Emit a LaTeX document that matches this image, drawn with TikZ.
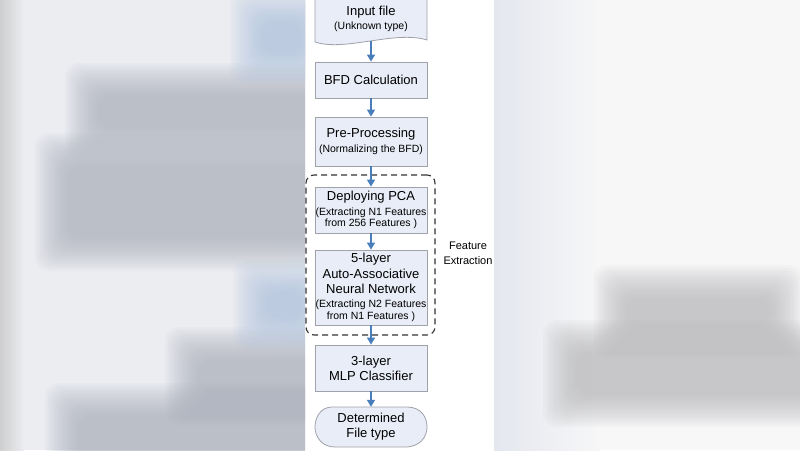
\documentclass[tikz,border=0pt]{standalone}
\usepackage{fontspec}
\setmainfont{Liberation Sans}
\usetikzlibrary{arrows.meta}
\definecolor{boxfill}{HTML}{E9EDF7}
\definecolor{boxline}{HTML}{A0A2AA}
\definecolor{arrowblue}{HTML}{4A7EBB}
\definecolor{bgleft}{HTML}{EBEDF1}
\definecolor{bglefttop}{HTML}{F3F4F6}
\definecolor{bgright}{HTML}{F7F7F8}
\definecolor{bgrightedge}{HTML}{E4E7EE}
\definecolor{blobgray}{HTML}{A4A9B5}
\definecolor{blobgrayr}{HTML}{B0B0B2}
\definecolor{blobblue}{HTML}{A6BEDD}
\definecolor{blobwhite}{HTML}{FAFBFC}
\newcommand\softblob[5]{%
  \foreach \k in {0,...,13}{\fill[#5, opacity=0.065, rounded corners=14pt] ({#1-(14-\k)*2.5},{#2-(14-\k)*2.5}) rectangle ({#3+(14-\k)*2.5},{#4+(14-\k)*2.5});}}
\newcommand\subtxt[1]{{\fontsize{10.5}{12}\selectfont #1}}
\tikzset{
  box/.style={draw=boxline, fill=boxfill, line width=0.8pt, minimum width=112pt, align=center, inner sep=0pt, font=\fontsize{13}{15.5}\selectfont},
  plain/.style={align=center, inner sep=0pt, font=\fontsize{13}{15.5}\selectfont},
  flow/.style={draw=arrowblue, line width=1.4pt, -{Triangle[width=8pt,length=7pt]}},
  shapeline/.style={draw=boxline, fill=boxfill, line width=0.8pt},
  groupbox/.style={draw=black!80, line width=1.1pt, dash pattern=on 6pt off 4pt, rounded corners=8pt, minimum width=129pt, minimum height=160pt, inner sep=0pt}
}
\begin{document}
\begin{tikzpicture}[x=1pt, y=-1pt]
\useasboundingbox (0,0) rectangle (800,450);
% background
\fill[white] (0,0) rectangle (800,450);
\begin{scope}
\clip (0,0) rectangle (305,450);
\fill[bgleft] (0,0) rectangle (305,450);
\softblob{0}{-20}{305}{55}{bglefttop}
\softblob{30}{275}{250}{325}{blobwhite}
\shade[left color=black!20, right color=bgleft, opacity=0.9] (0,0) rectangle (24,450);
\softblob{100}{98}{330}{126}{blobgray}
\softblob{70}{168}{330}{236}{blobgray}
\softblob{200}{362}{330}{390}{blobgray}
\softblob{80}{418}{330}{470}{blobgray}
\softblob{265}{25}{298}{50}{blobblue}
\softblob{268}{294}{298}{316}{blobblue}
\end{scope}
\begin{scope}
\clip (494,0) rectangle (800,450);
\fill[bgright] (494,0) rectangle (800,450);
\shade[left color=bgrightedge, right color=bgright] (494,0) rectangle (600,450);
\softblob{628}{300}{768}{323}{blobgrayr}
\softblob{578}{355}{815}{392}{blobgrayr}
\end{scope}
% input document shape
\path[shapeline] (315,-1) -- (427,-1) -- (427,40) .. controls (395,30) and (345,52) .. (315,42) -- cycle;
\node[plain] (inp) at (371,19) {Input file\\[-1.5pt]\subtxt{(Unknown type)}};
\coordinate (inpb) at (371,41);
% boxes
\node[box, minimum height=36pt] (bfd) at (371,80) {BFD Calculation};
\node[box, minimum height=49pt] (pre) at (371,141.5) {Pre-Processing\\[-0.5pt]\subtxt{(Normalizing the BFD)}};
\node[groupbox] (fe) at (370.5,255) {};
\node[box, minimum height=46pt] (pca) at (371,210) {Deploying PCA\\[-1pt]\subtxt{(Extracting N1 Features}\\[-4pt]\subtxt{from 256 Features )}};
\node[box, minimum height=75pt] (aann) at (371,287.5) {5-layer\\Auto-Associative\\Neural Network\\[-1.5pt]\subtxt{(Extracting N2 Features}\\[-4pt]\subtxt{from N1 Features )}};
\node[box, minimum height=46pt] (mlp) at (371,368) {3-layer\\[-0.5pt]MLP Classifier};
% terminator
\path[shapeline] (332,407) -- (407,407) .. controls (421,407) and (427,417) .. (427,427) .. controls (427,437) and (420,447) .. (405,447) -- (335,447) .. controls (322,447) and (315,437) .. (315,427) .. controls (315,417) and (321,407) .. cycle;
\node[plain, minimum width=112pt, minimum height=40pt] (out) at (371,427) {Determined\\[-0.5pt]File type};
\node[align=center, inner sep=0pt, font=\fontsize{11}{14.5}\selectfont] (fel) at (468,253.5) {Feature\\Extraction};
% connectors
\draw[flow] (inpb) -- (bfd.north);
\draw[flow] (bfd.south) -- (pre.north);
\draw[flow] (pre.south) -- (pca.north);
\draw[flow] (pca.south) -- (aann.north);
\draw[flow] (aann.south) -- (mlp.north);
\draw[flow] (mlp.south) -- (out.north);
\end{tikzpicture}
\end{document}
